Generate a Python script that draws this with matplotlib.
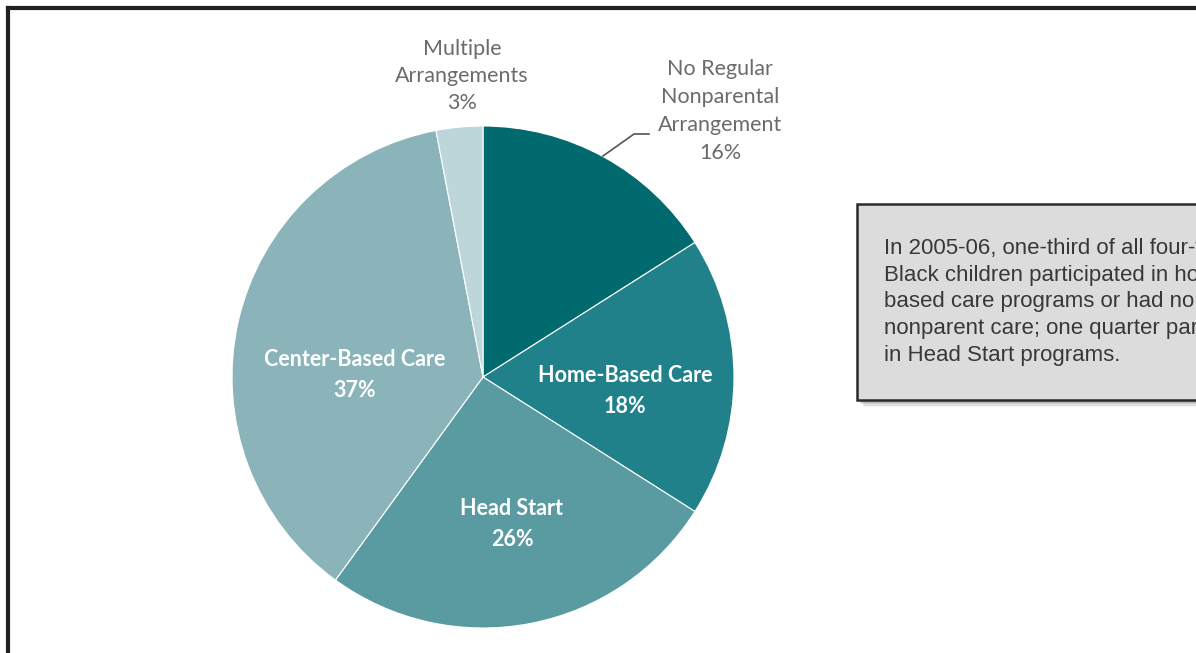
import matplotlib
matplotlib.use("Agg")
import matplotlib.pyplot as plt
from matplotlib.patches import Rectangle

# data (clockwise from 12 o'clock)
labels = ["No Regular\nNonparental\nArrangement", "Home-Based Care", "Head Start",
          "Center-Based Care", "Multiple\nArrangements"]
shares = [16, 18, 26, 37, 3]
colors = ["#006a6e", "#21818a", "#5a9ba2", "#8ab4b9", "#bdd6da"]
inside = [False, True, True, True, False]

note = ("In 2005-06, one-third of all four-year-old\n"
        "Black children participated in home-\n"
        "based care programs or had no regular\n"
        "nonparent care; one quarter participated\n"
        "in Head Start programs.")

W, H = 1196, 653
fig = plt.figure(figsize=(W / 100, H / 100), dpi=100)
ax = fig.add_axes([0, 0, 1, 1])

cx, cy, r = 483, H - 377, 251
wedges, _ = ax.pie(shares, colors=colors, startangle=90, counterclock=False,
                   center=(cx, cy), radius=r, frame=True,
                   wedgeprops=dict(linewidth=0.8, edgecolor="white"))
ax.set_xlim(0, W)
ax.set_ylim(0, H)
ax.set_aspect("equal")
ax.axis("off")

# inside labels
in_pos = {1: (625, 391), 2: (512, 524), 3: (355, 375)}
for i, (lab, val) in enumerate(zip(labels, shares)):
    if inside[i]:
        x, y = in_pos[i]
        ax.text(x, H - y, f"{lab}\n{val}%", ha="center", va="center", color="white",
                fontsize=15.5, fontweight="bold", family="Lato", linespacing=1.6)

# outside labels
ax.text(462, H - 76, f"{labels[4]}\n{shares[4]}%", ha="center", va="center",
        color="#6b6b6b", fontsize=15.5, family="Lato", linespacing=1.45)
ax.text(720, H - 111, f"{labels[0]}\n{shares[0]}%", ha="center", va="center",
        color="#6b6b6b", fontsize=15.5, family="Lato", linespacing=1.5)
ax.plot([603, 634, 649], [H - 156, H - 134, H - 134], color="#555555", lw=1.2)

# frame
ax.plot([7.5, 7.5], [-5, H - 8], color="#222222", lw=3, solid_capstyle="projecting")
ax.plot([7.5, W + 5], [H - 8, H - 8], color="#222222", lw=3, solid_capstyle="projecting")

# callout box with shadow
for k, a in enumerate([0.08, 0.10, 0.14, 0.20]):
    off = 7 - k * 1.5
    ax.add_patch(Rectangle((857 + off, H - 400 - off), 400, 196, facecolor="#555555",
                           alpha=a, edgecolor="none", zorder=3))
ax.add_patch(Rectangle((857, H - 400), 400, 196, facecolor="#dcdcdd",
                       edgecolor="#2a2a2a", lw=1.8, zorder=4))
ax.text(884, H - 302, note, ha="left", va="center", color="#383838", fontsize=16,
        family="Liberation Sans", linespacing=1.36, zorder=5)

fig.savefig("out.png", dpi=100)
